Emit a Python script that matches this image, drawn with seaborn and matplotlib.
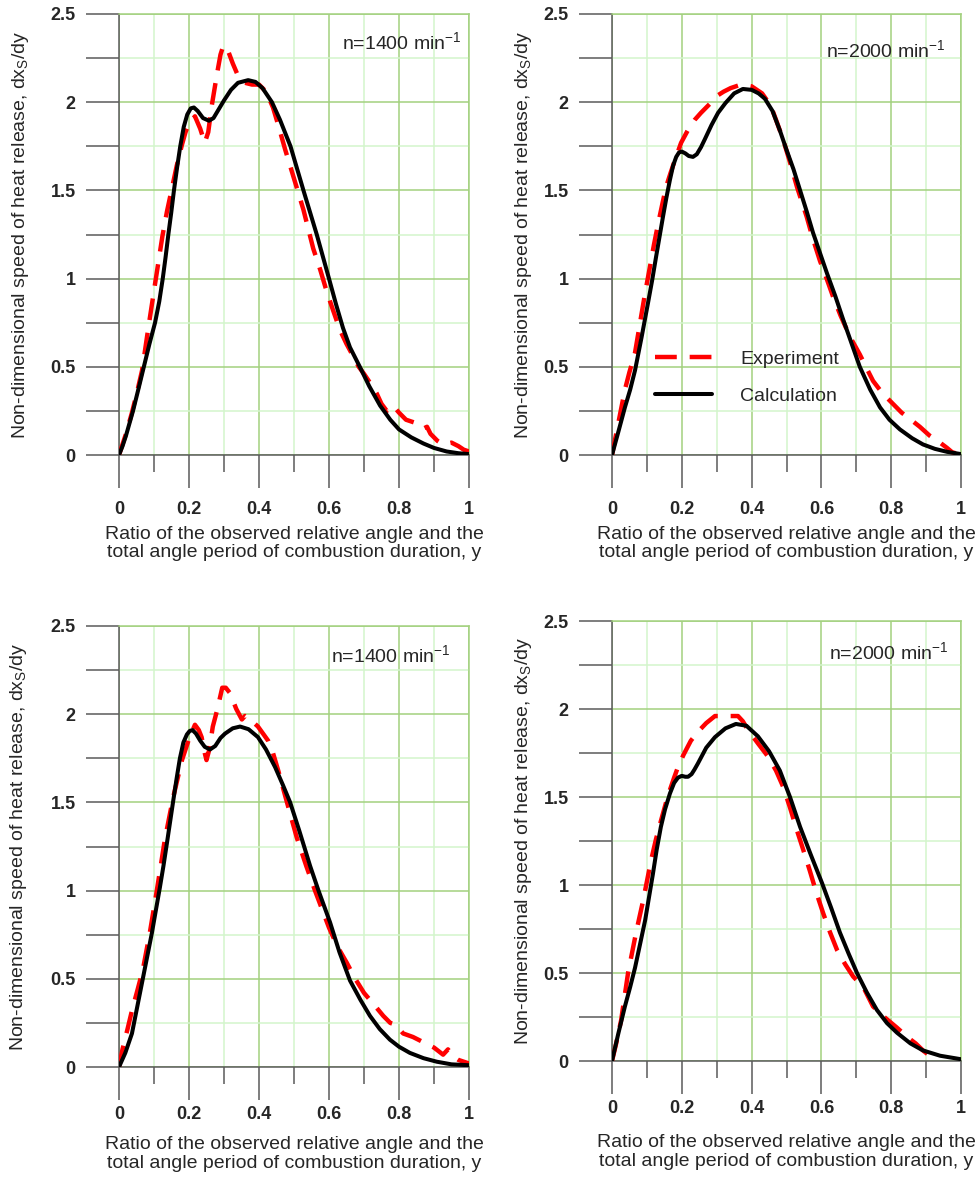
import numpy as np
import pandas as pd
import matplotlib
matplotlib.use("Agg")
import matplotlib.pyplot as plt
import seaborn as sns
from matplotlib.ticker import MultipleLocator, FuncFormatter
from matplotlib.lines import Line2D

# ---------------- data ----------------
# Top-left panel, n=1400 min-1
tl_calc_x = [0, 0.01, 0.02, 0.03, 0.04, 0.055, 0.071, 0.087, 0.103, 0.115, 0.125, 0.133, 0.141, 0.149, 0.157,
             0.166, 0.175, 0.185, 0.195, 0.205, 0.214, 0.225, 0.24, 0.257, 0.27, 0.285, 0.30, 0.32, 0.34,
             0.369, 0.39, 0.41, 0.437, 0.46, 0.49, 0.527, 0.565, 0.60, 0.62, 0.64, 0.66, 0.688, 0.715,
             0.746, 0.775, 0.80, 0.835, 0.87, 0.90, 0.936, 0.97, 1.0]
tl_calc_y = [0, 0.05, 0.11, 0.18, 0.25, 0.37, 0.5, 0.63, 0.75, 0.87, 1.0, 1.12, 1.25, 1.37, 1.5,
             1.63, 1.75, 1.86, 1.93, 1.965, 1.97, 1.95, 1.91, 1.895, 1.91, 1.96, 2.01, 2.07, 2.11,
             2.125, 2.115, 2.08, 2.0, 1.9, 1.75, 1.5, 1.25, 1.0, 0.855, 0.72, 0.61, 0.5, 0.39,
             0.28, 0.2, 0.145, 0.1, 0.065, 0.04, 0.02, 0.01, 0.005]
tl_exp_x = [0, 0.02, 0.037, 0.052, 0.066, 0.083, 0.103, 0.124, 0.137, 0.15, 0.165, 0.18, 0.19, 0.2, 0.217,
            0.232, 0.245, 0.255, 0.265, 0.28, 0.29, 0.298, 0.31, 0.325, 0.34, 0.36, 0.38, 0.40, 0.42,
            0.44, 0.455, 0.475, 0.495, 0.527, 0.555, 0.575, 0.593, 0.61, 0.631, 0.65, 0.669, 0.685, 0.70,
            0.717, 0.736, 0.75, 0.765, 0.783, 0.80, 0.82, 0.85, 0.87, 0.88, 0.89, 0.91, 0.926, 0.95,
            0.97, 0.985, 1.0]
tl_exp_y = [0, 0.12, 0.24, 0.36, 0.48, 0.71, 0.97, 1.24, 1.38, 1.5, 1.64, 1.76, 1.83, 1.88, 1.92,
            1.85, 1.77, 1.83, 1.98, 2.16, 2.27, 2.32, 2.3, 2.22, 2.15, 2.11, 2.1, 2.1, 2.06,
            1.97, 1.87, 1.73, 1.6, 1.39, 1.17, 1.05, 0.93, 0.83, 0.71, 0.63, 0.56, 0.5, 0.46,
            0.41, 0.35, 0.29, 0.25, 0.28, 0.24, 0.2, 0.18, 0.15, 0.16, 0.12, 0.08, 0.06, 0.07,
            0.05, 0.03, 0.02]

# Top-right panel, n=2000 min-1
tr_calc_x = [0, 0.018, 0.037, 0.052, 0.066, 0.085, 0.103, 0.115, 0.126, 0.136, 0.146, 0.156, 0.166, 0.175,
             0.184, 0.192, 0.2, 0.21, 0.22, 0.232, 0.243, 0.255, 0.266, 0.285, 0.304, 0.325, 0.35, 0.375,
             0.4, 0.42, 0.438, 0.46, 0.481, 0.5, 0.52, 0.539, 0.558, 0.576, 0.596, 0.616, 0.64, 0.662,
             0.686, 0.71, 0.74, 0.768, 0.795, 0.825, 0.86, 0.891, 0.925, 0.96, 1.0]
tr_calc_y = [0, 0.13, 0.27, 0.37, 0.48, 0.67, 0.86, 0.99, 1.12, 1.235, 1.35, 1.46, 1.56, 1.64,
             1.69, 1.715, 1.72, 1.71, 1.695, 1.69, 1.705, 1.745, 1.79, 1.87, 1.94, 1.995, 2.05, 2.075,
             2.07, 2.05, 2.02, 1.95, 1.84, 1.73, 1.62, 1.5, 1.38, 1.26, 1.145, 1.03, 0.9, 0.77,
             0.635, 0.5, 0.37, 0.27, 0.2, 0.145, 0.095, 0.06, 0.035, 0.018, 0.005]
tr_exp_x = [0, 0.008, 0.02, 0.037, 0.05, 0.066, 0.083, 0.095, 0.109, 0.12, 0.132, 0.145, 0.155, 0.168, 0.18,
            0.198, 0.217, 0.237, 0.255, 0.275, 0.29, 0.304, 0.32, 0.34, 0.37, 0.40, 0.415, 0.43, 0.455,
            0.47, 0.49, 0.51, 0.53, 0.558, 0.575, 0.596, 0.615, 0.633, 0.655, 0.682, 0.71, 0.73, 0.748,
            0.775, 0.805, 0.83, 0.85, 0.882, 0.91, 0.94, 0.96, 0.975, 0.985]
tr_exp_y = [0, 0.08, 0.2, 0.37, 0.47, 0.58, 0.78, 0.92, 1.07, 1.19, 1.31, 1.43, 1.52, 1.6, 1.67,
            1.77, 1.84, 1.9, 1.94, 1.98, 2.01, 2.04, 2.06, 2.08, 2.1, 2.09, 2.07, 2.05, 1.98,
            1.9, 1.79, 1.66, 1.52, 1.35, 1.23, 1.1, 1.0, 0.9, 0.79, 0.67, 0.57, 0.49, 0.42,
            0.35, 0.29, 0.24, 0.21, 0.16, 0.11, 0.07, 0.04, 0.015, 0.01]

# Bottom-left panel, n=1400 min-1
bl_calc_x = [0, 0.018, 0.037, 0.05, 0.066, 0.08, 0.094, 0.105, 0.117, 0.127, 0.137, 0.146, 0.155, 0.165,
             0.174, 0.184, 0.194, 0.202, 0.21, 0.22, 0.232, 0.245, 0.26, 0.275, 0.29, 0.303, 0.325, 0.346,
             0.37, 0.397, 0.42, 0.446, 0.468, 0.489, 0.515, 0.546, 0.57, 0.603, 0.63, 0.66, 0.69, 0.717,
             0.745, 0.774, 0.8, 0.831, 0.87, 0.908, 0.95, 1.0]
bl_calc_y = [0, 0.08, 0.19, 0.32, 0.48, 0.62, 0.76, 0.885, 1.02, 1.14, 1.27, 1.39, 1.51, 1.64,
             1.75, 1.84, 1.885, 1.905, 1.91, 1.89, 1.85, 1.815, 1.80, 1.82, 1.865, 1.89, 1.92, 1.93,
             1.915, 1.87, 1.8, 1.70, 1.6, 1.5, 1.34, 1.14, 1.0, 0.82, 0.65, 0.49, 0.38, 0.29,
             0.215, 0.155, 0.115, 0.08, 0.05, 0.03, 0.015, 0.01]
bl_exp_x = [0, 0.01, 0.025, 0.037, 0.052, 0.068, 0.088, 0.108, 0.12, 0.131, 0.143, 0.155, 0.168, 0.18, 0.19,
            0.2, 0.217, 0.228, 0.236, 0.245, 0.25, 0.258, 0.268, 0.28, 0.295, 0.305, 0.317, 0.335, 0.351,
            0.36, 0.375, 0.397, 0.426, 0.44, 0.455, 0.48, 0.508, 0.535, 0.56, 0.6, 0.625, 0.651, 0.675,
            0.7, 0.73, 0.755, 0.775, 0.79, 0.812, 0.84, 0.87, 0.9, 0.926, 0.94, 0.955, 0.97, 1.0]
bl_exp_y = [0, 0.1, 0.22, 0.32, 0.43, 0.55, 0.76, 1.0, 1.15, 1.29, 1.41, 1.53, 1.64, 1.74, 1.8,
            1.86, 1.94, 1.91, 1.87, 1.78, 1.74, 1.8, 1.93, 2.02, 2.15, 2.15, 2.12, 2.03, 1.97,
            1.99, 1.97, 1.93, 1.85, 1.78, 1.68, 1.5, 1.30, 1.14, 1.0, 0.79, 0.68, 0.59, 0.5,
            0.42, 0.35, 0.29, 0.25, 0.24, 0.19, 0.17, 0.14, 0.11, 0.07, 0.1, 0.06, 0.04, 0.02]

# Bottom-right panel, n=2000 min-1
br_calc_x = [0, 0.018, 0.037, 0.052, 0.066, 0.08, 0.095, 0.106, 0.117, 0.128, 0.14, 0.152, 0.166, 0.178,
             0.189, 0.2, 0.21, 0.218, 0.228, 0.236, 0.246, 0.27, 0.295, 0.325, 0.355, 0.385, 0.418, 0.45,
             0.481, 0.51, 0.539, 0.57, 0.602, 0.628, 0.653, 0.678, 0.702, 0.73, 0.759, 0.788, 0.817,
             0.855, 0.891, 0.94, 1.0]
br_calc_y = [0, 0.155, 0.31, 0.42, 0.53, 0.66, 0.8, 0.93, 1.06, 1.2, 1.33, 1.43, 1.52, 1.58,
             1.61, 1.62, 1.615, 1.615, 1.63, 1.655, 1.69, 1.78, 1.84, 1.89, 1.915, 1.905, 1.845, 1.76,
             1.65, 1.5, 1.33, 1.17, 1.01, 0.87, 0.73, 0.61, 0.5, 0.39, 0.29, 0.215, 0.16,
             0.1, 0.06, 0.03, 0.01]
br_exp_x = [0, 0.012, 0.026, 0.046, 0.069, 0.089, 0.112, 0.126, 0.141, 0.155, 0.166, 0.178, 0.189, 0.205,
            0.226, 0.246, 0.27, 0.295, 0.33, 0.361, 0.375, 0.39, 0.42, 0.447, 0.47, 0.49, 0.51, 0.53,
            0.548, 0.567, 0.585, 0.605, 0.625, 0.645, 0.668, 0.691, 0.72, 0.748, 0.78, 0.816, 0.85,
            0.87, 0.891, 0.91]
br_exp_y = [0, 0.1, 0.23, 0.5, 0.73, 0.91, 1.14, 1.26, 1.37, 1.47, 1.54, 1.61, 1.67, 1.74,
            1.82, 1.87, 1.92, 1.96, 1.96, 1.96, 1.93, 1.88, 1.8, 1.73, 1.65, 1.56, 1.44, 1.31,
            1.2, 1.08, 0.96, 0.84, 0.73, 0.63, 0.55, 0.48, 0.42, 0.31, 0.25, 0.19, 0.13,
            0.1, 0.06, 0.03]

speed_labels = ["n=1400 min$^{\\mathregular{-1}}$", "n=2000 min$^{\\mathregular{-1}}$",
                "n=1400 min$^{\\mathregular{-1}}$", "n=2000 min$^{\\mathregular{-1}}$"]
series_names = ["Experiment", "Calculation"]
x_label = "Ratio of the observed relative angle and the\ntotal angle period of combustion duration, y"
y_label = "Non-dimensional speed of heat release, dx$_{\\mathregular{S}}$/dy"

# ---------------- style ----------------
sns.set_style("white")
plt.rcParams["font.family"] = ["Liberation Sans", "DejaVu Sans"]
plt.rcParams["mathtext.fontset"] = "custom"
plt.rcParams["mathtext.rm"] = "Liberation Sans"
plt.rcParams["mathtext.it"] = "Liberation Sans:italic"
plt.rcParams["mathtext.bf"] = "Liberation Sans:bold"

W, H = 977, 1177
fig = plt.figure(figsize=(W / 100, H / 100), dpi=100)

# panel boxes in pixels: left, top, right, bottom
boxes = [(119, 14, 469, 455), (612, 14, 961, 455), (119, 626, 469, 1067), (612, 621, 961, 1061)]
ylab_x = [21, 524, 19, 524]
xlab_y = [543.5, 543.5, 1154, 1152]
ann_pos = [(461, 42), (945, 50), (450, 655), (948, 652)]
xtick_pad = [9.4, 9.4, 4.6, 4.6]

panels = [(tl_exp_x, tl_exp_y, tl_calc_x, tl_calc_y),
          (tr_exp_x, tr_exp_y, tr_calc_x, tr_calc_y),
          (bl_exp_x, bl_exp_y, bl_calc_x, bl_calc_y),
          (br_exp_x, br_exp_y, br_calc_x, br_calc_y)]

GRID_MAJ = "#a3d17f"
GRID_MIN = "#d3f5cc"
AX_GRAY = "#5a5a5a"
DASH = (0, (4.9, 2.9))

fmt = FuncFormatter(lambda v, p: f"{v:g}")

for i, (box, (ex, ey, cx, cy)) in enumerate(zip(boxes, panels)):
    l, t, r, b = box
    ax = fig.add_axes([l / W, 1 - b / H, (r - l) / W, (b - t) / H])
    ax.set_xlim(0, 1)
    ax.set_ylim(0, 2.5)

    ax.xaxis.set_major_locator(MultipleLocator(0.2))
    ax.xaxis.set_minor_locator(MultipleLocator(0.1))
    ax.yaxis.set_major_locator(MultipleLocator(0.5))
    ax.yaxis.set_minor_locator(MultipleLocator(0.25))
    ax.xaxis.set_major_formatter(fmt)
    ax.yaxis.set_major_formatter(fmt)

    ax.grid(which="major", color=GRID_MAJ, linewidth=1.1, zorder=0)
    ax.grid(which="minor", color=GRID_MIN, linewidth=1.1, zorder=0)
    ax.set_axisbelow(True)

    ax.tick_params(axis="x", which="major", direction="out", length=23.8, width=1.1,
                   color=AX_GRAY, pad=xtick_pad[i], labelsize=13, bottom=True)
    ax.tick_params(axis="x", which="minor", direction="out", length=12.2, width=1.1,
                   color=AX_GRAY, bottom=True)
    ax.tick_params(axis="y", which="both", direction="out", length=23.8, width=1.1,
                   color=AX_GRAY, pad=7.5, labelsize=13, left=True)
    for lab in ax.get_xticklabels() + ax.get_yticklabels():
        lab.set_fontweight("bold")

    for s in ["left", "bottom"]:
        ax.spines[s].set_color(AX_GRAY)
        ax.spines[s].set_linewidth(1.1)
    for s in ["top", "right"]:
        ax.spines[s].set_color(GRID_MAJ)
        ax.spines[s].set_linewidth(1.1)

    df_e = pd.DataFrame({"x": ex, "y": ey})
    df_c = pd.DataFrame({"x": cx, "y": cy})
    sns.lineplot(data=df_e, x="x", y="y", ax=ax, color="#ff0000", linewidth=3.2,
                 linestyle=DASH, estimator=None, sort=False, legend=False, zorder=3)
    sns.lineplot(data=df_c, x="x", y="y", ax=ax, color="black", linewidth=2.9,
                 estimator=None, sort=False, legend=False, zorder=4,
                 solid_joinstyle="round", solid_capstyle="round")
    ax.set_xlabel("")
    ax.set_ylabel("")

    # axis titles
    ax.text((ylab_x[i] - l) / (r - l), 0.5, y_label, transform=ax.transAxes, rotation=90,
            ha="center", va="center", fontsize=14)
    ax.text(0.5, -(xlab_y[i] - b) / (b - t), x_label, transform=ax.transAxes,
            ha="center", va="center", fontsize=14, linespacing=1.1)
    ax_x, ax_y = ann_pos[i]
    ax.text((ax_x - l) / (r - l), (b - ax_y) / (b - t), speed_labels[i], transform=ax.transAxes,
            ha="right", va="center", fontsize=14)

    if i == 1:
        handles = [Line2D([], [], color="#ff0000", linewidth=3.2, linestyle=DASH),
                   Line2D([], [], color="black", linewidth=2.9)]
        ax.legend(handles, series_names, loc="center left",
                  bbox_to_anchor=((655 - l) / (r - l), (b - 377.5) / (b - t)),
                  frameon=False, fontsize=14, handlelength=2.93, handletextpad=1.44,
                  labelspacing=1.0, borderpad=0, borderaxespad=0)

fig.savefig("out.png", dpi=100)
